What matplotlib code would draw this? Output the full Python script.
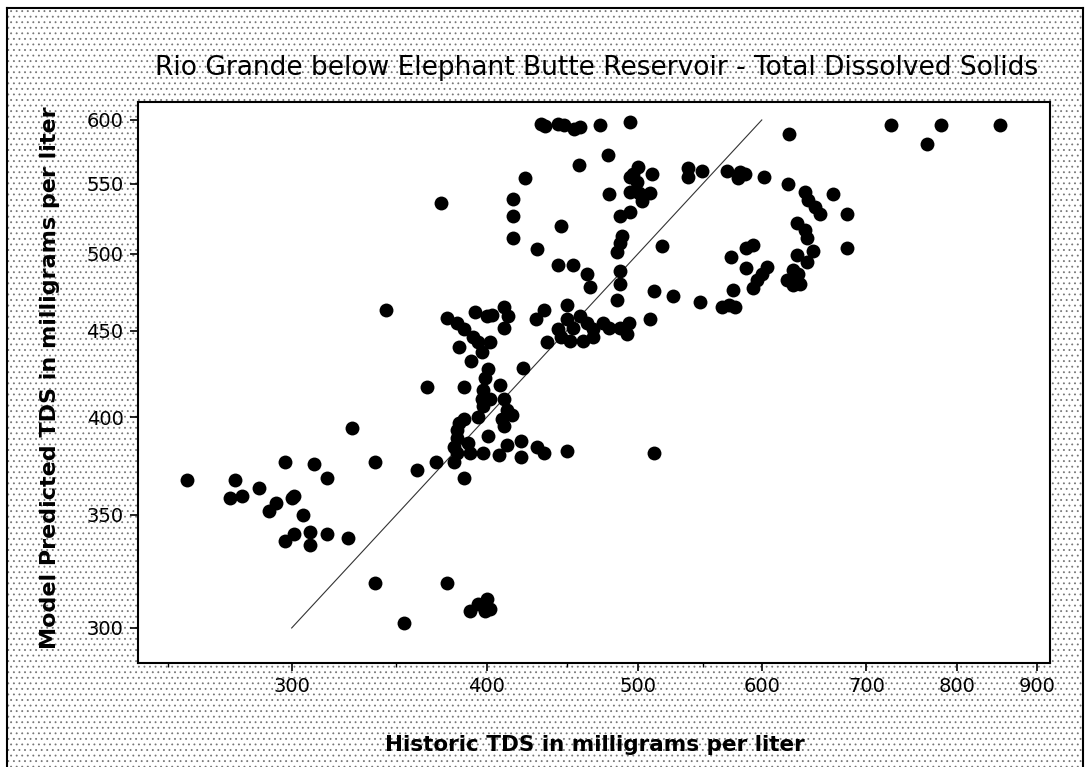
import matplotlib
matplotlib.use("Agg")
import matplotlib.pyplot as plt
from matplotlib.patches import Rectangle
from matplotlib.lines import Line2D
from matplotlib.ticker import FixedLocator, NullFormatter

# ---- data (Historic TDS, Model predicted TDS), mg/L ----
historic = [
    257, 276, 274, 279, 286, 293, 290, 300, 301, 305, 297, 301, 308, 308, 316, 326,
    297, 310, 316, 328, 339, 339, 354, 377, 390, 395, 400, 402, 399, 361, 371, 381,
    387, 366, 345, 374,
    377, 393, 400, 403, 410, 413, 410, 383, 387, 392, 395, 402, 397, 384, 391, 401,
    399, 398, 397, 398, 402, 395, 408, 410, 412, 415, 409, 410, 422, 387, 384, 387,
    383, 383, 381, 383, 389, 390, 401, 398, 407, 412, 421, 421, 431, 435, 450, 512,
    430, 435, 437, 450, 444, 450, 454, 459, 464, 468, 475, 479, 452, 461, 468, 446,
    487, 493, 492, 509, 485, 487, 487, 487, 485, 488, 487, 494, 479, 464, 466, 444,
    454, 431, 446, 416, 416, 416, 423, 458, 478, 500, 496, 510, 499, 494, 501, 509,
    503, 494,
    433, 436, 444, 448, 455, 459, 473, 494, 625, 726, 782, 765, 853,
    518, 512, 526, 548, 566, 572, 577, 538, 538, 549, 570, 581, 585, 579, 602, 624,
    639, 642, 649, 654, 666, 680, 632, 639, 641, 647, 680, 632, 641, 628, 623, 628,
    635, 592, 586, 573, 586, 605, 600, 592, 575, 596, 633,
]
predicted = [
    367, 367, 358, 359, 363, 356, 352, 358, 359, 350, 338, 341, 342, 336, 341, 339,
    376, 375, 368, 394, 376, 319, 302, 319, 307, 310, 312, 308, 307, 372, 376, 376,
    368, 417, 463, 536,
    458, 462, 459, 460, 465, 459, 452, 455, 451, 446, 443, 443, 437, 440, 432, 427,
    422, 415, 410, 406, 410, 400, 418, 410, 404, 401, 399, 395, 428, 417, 397, 399,
    393, 389, 384, 381, 386, 381, 390, 381, 380, 385, 387, 379, 384, 381, 382, 381,
    457, 463, 443, 466, 451, 457, 452, 459, 455, 451, 455, 452, 444, 444, 446, 446,
    452, 455, 448, 457, 469, 480, 488, 507, 501, 512, 526, 529, 542, 486, 478, 492,
    492, 503, 519, 539, 526, 511, 554, 564, 572, 563, 557, 557, 551, 544, 543, 543,
    537, 555,
    597, 595, 597, 596, 593, 594, 596, 598, 589, 596, 596, 581, 596,
    505, 475, 472, 468, 465, 466, 465, 562, 555, 560, 560, 559, 557, 554, 555, 550,
    544, 538, 533, 528, 542, 528, 521, 516, 511, 502, 504, 499, 494, 489, 482, 479,
    480, 506, 504, 498, 490, 491, 486, 477, 476, 482, 486,
]
ref_line = [300, 600]
x_ticks = [300, 400, 500, 600, 700, 800, 900]
x_minor = [250, 350, 450, 550]
y_ticks = [300, 350, 400, 450, 500, 550, 600]

title = "Rio Grande below Elephant Butte Reservoir - Total Dissolved Solids"
xlabel = "Historic TDS in milligrams per liter"
ylabel = "Model Predicted TDS in milligrams per liter"

W, H = 1091, 767
fig = plt.figure(figsize=(W / 100, H / 100), dpi=100)
fig.patch.set_facecolor("white")

# stippled background inside the outer frame
plt.rcParams["hatch.linewidth"] = 0.6
bg = Rectangle((7 / W, 0), (1083 - 7) / W, 1 - 8 / H, transform=fig.transFigure,
               facecolor="white", edgecolor="#777777", hatch="...", lw=0, zorder=-10)
fig.patches.append(bg)
for xs, ys in [([7 / W, 7 / W], [0, 1 - 8 / H]),
               ([7 / W, 1083 / W], [1 - 8 / H, 1 - 8 / H]),
               ([1083 / W, 1083 / W], [0, 1 - 8 / H])]:
    fig.add_artist(Line2D(xs, ys, transform=fig.transFigure, color="black", lw=1.5))

ax = fig.add_axes([137.5 / W, 1 - 663 / H, (1050 - 137.5) / W, (663 - 101.5) / H])
ax.set_facecolor("white")
ax.set_xscale("log")
ax.set_yscale("log")

ax.scatter(historic, predicted, s=100, c="black", marker="o", linewidths=0, zorder=3)
ax.plot(ref_line, ref_line, color="#333333", lw=0.8, zorder=2)

ax.set_xlim(239, 917.7)
ax.set_ylim(286, 615.3)

ax.xaxis.set_major_locator(FixedLocator(x_ticks))
ax.xaxis.set_minor_locator(FixedLocator(x_minor))
ax.xaxis.set_minor_formatter(NullFormatter())
ax.set_xticklabels([str(v) for v in x_ticks])
ax.yaxis.set_major_locator(FixedLocator(y_ticks))
ax.yaxis.set_minor_locator(FixedLocator([]))
ax.yaxis.set_minor_formatter(NullFormatter())
ax.set_yticklabels([str(v) for v in y_ticks])

ax.tick_params(axis="both", which="major", direction="out", length=6, width=1.2,
               labelsize=14, colors="black", pad=4)
ax.tick_params(axis="x", which="minor", direction="out", length=3, width=1)
for s in ax.spines.values():
    s.set_linewidth(1.5)
    s.set_color("black")

fig.text(597 / W, 1 - 68 / H, title, ha="center", va="center", fontsize=19)
fig.text(595 / W, 1 - 745 / H, xlabel, ha="center", va="center", fontsize=15.5,
         fontweight="bold")
fig.text(50 / W, 1 - 378 / H, ylabel, ha="center", va="center", fontsize=16,
         fontweight="bold", rotation=90)

fig.savefig("out.png", dpi=100)
